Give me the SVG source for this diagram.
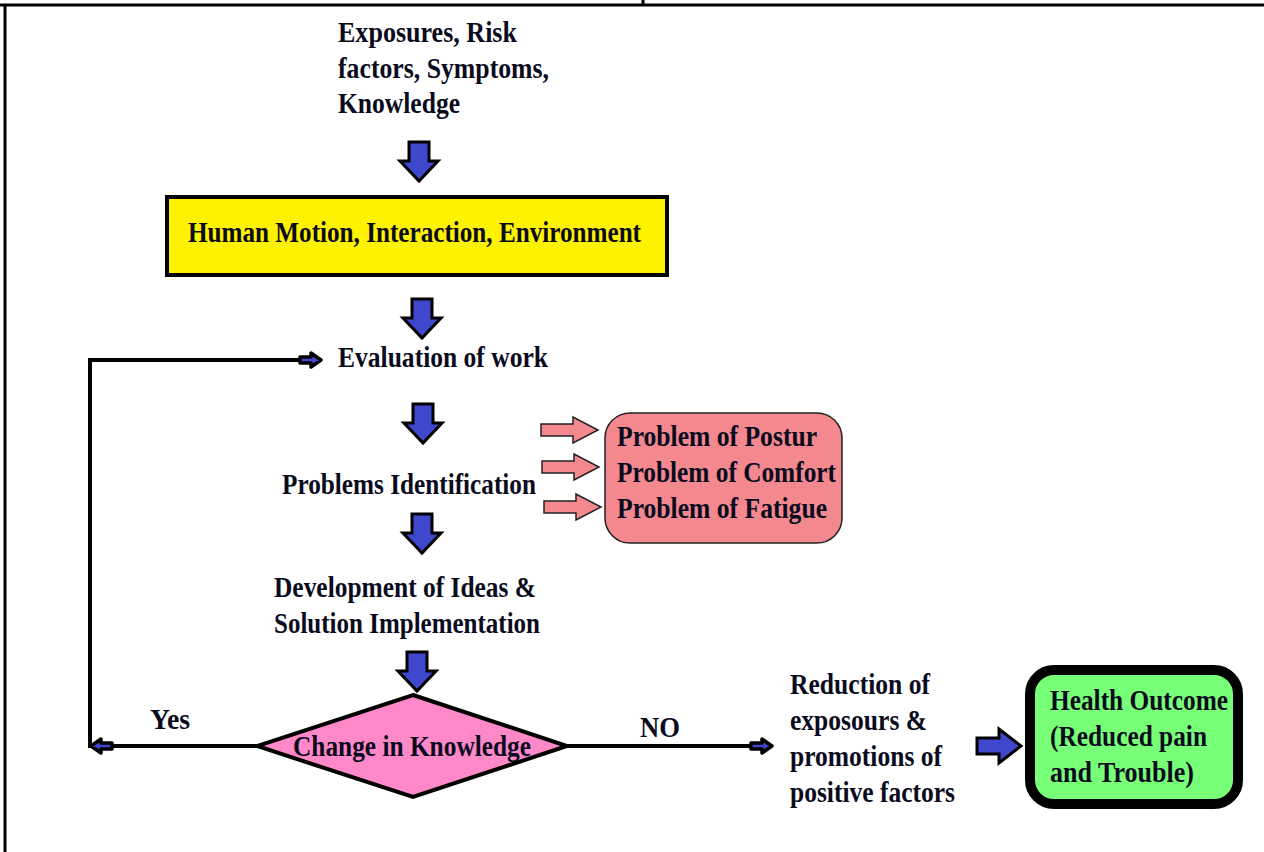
<svg xmlns="http://www.w3.org/2000/svg" width="1264" height="852" viewBox="0 0 1264 852">
<style>
.t{font-family:"Liberation Serif","Times New Roman",serif;font-weight:bold;font-size:30px;fill:#0b0b1e}
.ln{fill:none;stroke:#000;stroke-width:4}
.blue{fill:#3f48cc;stroke:#000;stroke-width:3;stroke-linejoin:miter}
.sm{fill:#3f48cc;stroke:#000;stroke-width:3.5;stroke-linejoin:round}
.pk{fill:#f4888f;stroke:#222;stroke-width:1.5}
</style>
<defs>
<path id="down" d="M9,0 H29 V19 H38 L19,39 L0,19 H9 Z"/>
<path id="right" d="M0,10 H22 V1 L44,18 L22,35 V26 H0 Z"/>
<path id="smr" d="M0,-3 H11 V-7 L21,0 L11,7 V3 H0 Z"/>
<path id="pkr" d="M0,7 H32 V0 L57,13 L32,26 V19 H0 Z"/>
</defs>
<rect width="1264" height="852" fill="#fff"/>
<g id="frame">
<line x1="0" y1="5" x2="1264" y2="5" stroke="#000" stroke-width="3"/>
<line x1="5" y1="5" x2="5" y2="852" stroke="#000" stroke-width="3"/>
<line x1="643" y1="0" x2="643" y2="5" stroke="#000" stroke-width="3"/>
</g>
<g id="connectors">
<polyline class="ln" points="257,746 90,746 90,360 300,360"/>
<line class="ln" x1="567" y1="746" x2="750" y2="746"/>
<use href="#smr" class="sm" transform="translate(300,360)"/>
<use href="#smr" class="sm" transform="translate(112,746) scale(-1,1)"/>
<use href="#smr" class="sm" transform="translate(751,746)"/>
<use href="#down" class="blue" transform="translate(400,142)"/>
<use href="#down" class="blue" transform="translate(403,299)"/>
<use href="#down" class="blue" transform="translate(404,404)"/>
<use href="#down" class="blue" transform="translate(403,514)"/>
<use href="#down" class="blue" transform="translate(398,652)"/>
<use href="#right" class="blue" transform="translate(977,728)"/>
<use href="#pkr" class="pk" transform="translate(541,417)"/>
<use href="#pkr" class="pk" transform="translate(542,454)"/>
<use href="#pkr" class="pk" transform="translate(544,494)"/>
</g>
<g id="inputs">
<text class="t" x="338" y="42" textLength="179" lengthAdjust="spacingAndGlyphs">Exposures, Risk</text>
<text class="t" x="338" y="78" textLength="211" lengthAdjust="spacingAndGlyphs">factors, Symptoms,</text>
<text class="t" x="338" y="113" textLength="122" lengthAdjust="spacingAndGlyphs">Knowledge</text>
</g>
<g id="human">
<rect x="167" y="197" width="500" height="78" fill="#fff200" stroke="#000" stroke-width="4"/>
<text class="t" x="188" y="242" textLength="453" lengthAdjust="spacingAndGlyphs">Human Motion, Interaction, Environment</text>
</g>
<g id="evaluation">
<text class="t" x="338" y="367" textLength="210" lengthAdjust="spacingAndGlyphs">Evaluation of work</text>
</g>
<g id="problems">
<text class="t" x="282" y="494" textLength="254" lengthAdjust="spacingAndGlyphs">Problems Identification</text>
</g>
<g id="problemlist">
<rect x="605" y="413" width="237" height="130" rx="25" fill="#f4888f" stroke="#222" stroke-width="1.5"/>
<text class="t" x="617" y="446" textLength="200" lengthAdjust="spacingAndGlyphs">Problem of Postur</text>
<text class="t" x="617" y="482" textLength="219" lengthAdjust="spacingAndGlyphs">Problem of Comfort</text>
<text class="t" x="617" y="518" textLength="210" lengthAdjust="spacingAndGlyphs">Problem of Fatigue</text>
</g>
<g id="development">
<text class="t" x="274" y="597" textLength="262" lengthAdjust="spacingAndGlyphs">Development of Ideas &amp;</text>
<text class="t" x="274" y="633" textLength="266" lengthAdjust="spacingAndGlyphs">Solution Implementation</text>
</g>
<g id="decision">
<polygon points="413,695 567,746 413,797 257,746" fill="#ff88c8" stroke="#000" stroke-width="4"/>
<text class="t" x="293" y="756" textLength="238" lengthAdjust="spacingAndGlyphs">Change in Knowledge</text>
</g>
<g id="labels">
<text class="t" x="150" y="729" textLength="40" lengthAdjust="spacingAndGlyphs">Yes</text>
<text class="t" x="640" y="737" textLength="40" lengthAdjust="spacingAndGlyphs">NO</text>
</g>
<g id="reduction">
<text class="t" x="790" y="694" textLength="140" lengthAdjust="spacingAndGlyphs">Reduction of</text>
<text class="t" x="790" y="730" textLength="137" lengthAdjust="spacingAndGlyphs">exposours &amp;</text>
<text class="t" x="790" y="766" textLength="152" lengthAdjust="spacingAndGlyphs">promotions of</text>
<text class="t" x="790" y="802" textLength="165" lengthAdjust="spacingAndGlyphs">positive factors</text>
</g>
<g id="outcome">
<rect x="1030" y="670" width="208" height="134" rx="24" fill="#77ff77" stroke="#000" stroke-width="10"/>
<text class="t" x="1050" y="710" textLength="178" lengthAdjust="spacingAndGlyphs">Health Outcome</text>
<text class="t" x="1050" y="746" textLength="157" lengthAdjust="spacingAndGlyphs">(Reduced pain</text>
<text class="t" x="1050" y="782" textLength="144" lengthAdjust="spacingAndGlyphs">and Trouble)</text>
</g>
</svg>
